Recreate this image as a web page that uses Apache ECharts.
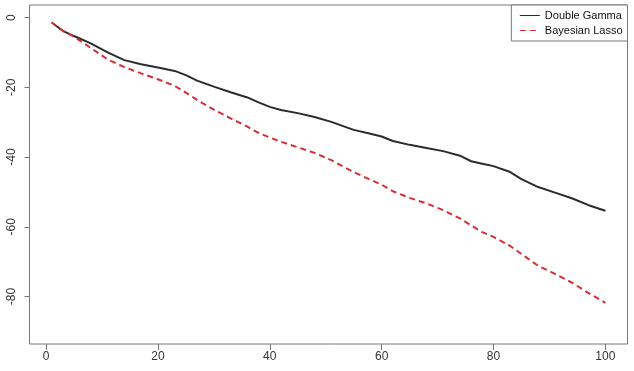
<!DOCTYPE html>
<html>
<head>
<meta charset="utf-8">
<script src="https://cdn.jsdelivr.net/npm/echarts@6/dist/echarts.min.js"></script>
<style>
  html, body { margin: 0; padding: 0; background: #fff; }
  #chart { width: 634px; height: 371px; }
</style>
</head>
<body>
<div id="chart"></div>
<script>
// values
var xs = [1, 3, 5, 8, 11, 14, 17, 20, 23, 25, 27, 30, 33, 36, 38, 40, 42, 45, 48, 51,
          55, 58, 60, 62, 65, 68, 71, 74, 76, 78, 80, 83, 85, 88, 91, 94, 97, 100];
var doubleGamma = [-1.4, -3.8, -5.3, -7.4, -10.0, -12.2, -13.4, -14.3, -15.3, -16.5,
                   -18.1, -19.8, -21.4, -22.9, -24.3, -25.6, -26.5, -27.4, -28.5, -29.9,
                   -32.2, -33.3, -34.1, -35.4, -36.5, -37.4, -38.3, -39.6, -41.2, -41.9,
                   -42.6, -44.3, -46.3, -48.6, -50.2, -51.8, -53.8, -55.4];
var bayesianLasso = [-1.4, -3.8, -5.5, -8.7, -12.0, -14.2, -16.0, -17.7, -19.6, -21.5,
                     -23.6, -26.4, -28.9, -31.3, -33.1, -34.4, -35.6, -37.2, -38.8, -40.9,
                     -44.3, -46.5, -47.9, -49.8, -51.7, -53.3, -55.2, -57.6, -59.6, -61.5,
                     -62.9, -65.5, -67.8, -71.2, -73.5, -76.0, -79.0, -81.8];
var xTicks = [0, 20, 40, 60, 80, 100];
var yTicks = [0, -20, -40, -60, -80];

function pairs(ys) {
    var out = [];
    for (var i = 0; i < xs.length; i++) out.push([xs[i], ys[i]]);
    return out;
}

var font = 'Liberation Sans';
var boxColor = '#777';
var chart = echarts.init(document.getElementById('chart'));
chart.setOption({
    animation: false,
    grid: {
        left: 29.5, right: 6.5, top: 5, bottom: 27,
        show: true, borderColor: boxColor, borderWidth: 1
    },
    legend: {
        right: 6.5, top: 5,
        orient: 'vertical',
        itemWidth: 20, itemHeight: 10, itemGap: 4,
        padding: [5, 5, 5, 8],
        borderColor: boxColor, borderWidth: 1,
        backgroundColor: '#fff',
        itemStyle: {opacity: 0},
        lineStyle: {width: 1},
        textStyle: {fontFamily: font, fontSize: 11, color: '#111'},
        data: ['Double Gamma', 'Bayesian Lasso']
    },
    xAxis: {
        type: 'value',
        min: -2.96, max: 103.96,
        splitLine: {show: false},
        axisLine: {show: false, onZero: false},
        axisTick: {show: true, length: 6, lineStyle: {color: boxColor}, customValues: xTicks},
        axisLabel: {fontFamily: font, fontSize: 12, color: '#333', margin: 7, customValues: xTicks}
    },
    yAxis: {
        type: 'value',
        min: -93.6, max: 3.6,
        splitLine: {show: false},
        axisLine: {show: false, onZero: false},
        axisTick: {show: true, length: 5, lineStyle: {color: boxColor}, customValues: yTicks},
        axisLabel: {fontFamily: font, fontSize: 12, color: '#333', rotate: 90, margin: 12, customValues: yTicks}
    },
    series: [
        {
            name: 'Double Gamma',
            type: 'line',
            data: pairs(doubleGamma),
            symbol: 'none',
            lineStyle: {color: '#2b2b2b', width: 2},
            itemStyle: {color: '#2b2b2b'}
        },
        {
            name: 'Bayesian Lasso',
            type: 'line',
            data: pairs(bayesianLasso),
            symbol: 'none',
            lineStyle: {color: '#d42f35', width: 2, type: [6, 4]},
            itemStyle: {color: '#d42f35'}
        }
    ]
});
</script>
</body>
</html>
